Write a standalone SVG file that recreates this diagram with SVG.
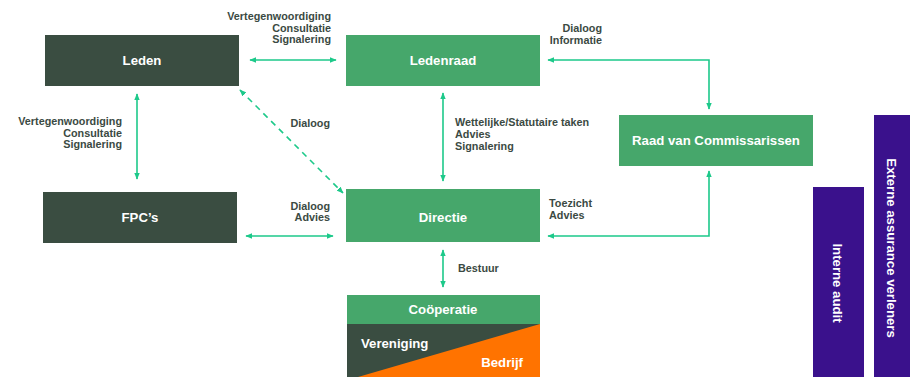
<svg xmlns="http://www.w3.org/2000/svg" width="910" height="377" viewBox="0 0 910 377">
<defs>
<marker id="ah" viewBox="0 0 10 10" refX="9" refY="5" markerWidth="7" markerHeight="7" orient="auto-start-reverse" markerUnits="userSpaceOnUse">
<path d="M0,1 L10,5 L0,9 z" fill="#1dc98a"/>
</marker>
<style>
.dark{fill:#3a4d41}
.green{fill:#46a76b}
.purple{fill:#3a118c}
.nt{font-family:"Liberation Sans",Arial,sans-serif;font-weight:bold;font-size:13.2px;fill:#ffffff}
.lb{font-family:"Liberation Sans",Arial,sans-serif;font-weight:bold;font-size:10.8px;fill:#3b4a43}
.c{fill:none;stroke:#1dc98a;stroke-width:1.6}
</style>
</defs>
<rect width="910" height="377" fill="#ffffff"/>
<g id="leden"><rect class="dark" x="45" y="35" width="194" height="51"/><text class="nt" x="142" y="65" text-anchor="middle">Leden</text></g>
<g id="ledenraad"><rect class="green" x="346" y="35" width="194" height="51"/><text class="nt" x="443" y="65" text-anchor="middle">Ledenraad</text></g>
<g id="rvc"><rect class="green" x="619" y="115" width="194" height="51"/><text class="nt" x="716" y="145" text-anchor="middle">Raad van Commissarissen</text></g>
<g id="fpc"><rect class="dark" x="43" y="192" width="194" height="51"/><text class="nt" x="140" y="222" text-anchor="middle">FPC’s</text></g>
<g id="directie"><rect class="green" x="346" y="189" width="194" height="53"/><text class="nt" x="443" y="222" text-anchor="middle">Directie</text></g>
<g id="cooperatie">
<rect class="green" x="347" y="295" width="193" height="29"/>
<text class="nt" x="443" y="314" text-anchor="middle">Coöperatie</text>
<rect class="dark" x="347" y="324" width="193" height="53"/>
<polygon points="358,377 540,324 540,377" fill="#ff7300"/>
<text class="nt" x="361" y="347.5">Vereniging</text>
<text class="nt" x="523" y="366.5" text-anchor="end">Bedrijf</text>
</g>
<g id="interne-audit"><rect class="purple" x="813" y="187" width="51" height="190"/><text class="nt" transform="translate(838,283) rotate(90)" text-anchor="middle" dy="4.7">Interne audit</text></g>
<g id="externe"><rect class="purple" x="874" y="115" width="36" height="262"/><text class="nt" transform="translate(892,248) rotate(90)" text-anchor="middle" dy="4.7">Externe assurance verleners</text></g>
<g id="connectors">
<line class="c" x1="250" y1="60" x2="336" y2="60" marker-start="url(#ah)" marker-end="url(#ah)"/>
<line class="c" x1="137" y1="94" x2="137" y2="179" marker-start="url(#ah)" marker-end="url(#ah)"/>
<line class="c" x1="240" y1="90" x2="343" y2="193" stroke-dasharray="6,5" marker-start="url(#ah)" marker-end="url(#ah)"/>
<line class="c" x1="443" y1="93" x2="443" y2="181" marker-start="url(#ah)" marker-end="url(#ah)"/>
<line class="c" x1="246" y1="236" x2="333" y2="236" marker-start="url(#ah)" marker-end="url(#ah)"/>
<polyline class="c" points="548,60 709,60 709,109" marker-start="url(#ah)" marker-end="url(#ah)"/>
<polyline class="c" points="548,236 709,236 709,171" marker-start="url(#ah)" marker-end="url(#ah)"/>
<line class="c" x1="443" y1="250" x2="443" y2="287" marker-start="url(#ah)" marker-end="url(#ah)"/>
</g>
<g id="labels">
<text class="lb" text-anchor="end"><tspan x="331" y="20">Vertegenwoordiging</tspan><tspan x="331" y="31.5">Consultatie</tspan><tspan x="331" y="43">Signalering</tspan></text>
<text class="lb" text-anchor="end"><tspan x="122" y="125">Vertegenwoordiging</tspan><tspan x="122" y="136.5">Consultatie</tspan><tspan x="122" y="148">Signalering</tspan></text>
<text class="lb" text-anchor="end" x="330" y="127">Dialoog</text>
<text class="lb" text-anchor="end"><tspan x="330" y="210">Dialoog</tspan><tspan x="330" y="221">Advies</tspan></text>
<text class="lb" text-anchor="end"><tspan x="602" y="32">Dialoog</tspan><tspan x="602" y="44">Informatie</tspan></text>
<text class="lb"><tspan x="455" y="126">Wettelijke/Statutaire taken</tspan><tspan x="455" y="138">Advies</tspan><tspan x="455" y="150">Signalering</tspan></text>
<text class="lb"><tspan x="549" y="207">Toezicht</tspan><tspan x="549" y="219">Advies</tspan></text>
<text class="lb" x="458" y="272">Bestuur</text>
</g>
</svg>
